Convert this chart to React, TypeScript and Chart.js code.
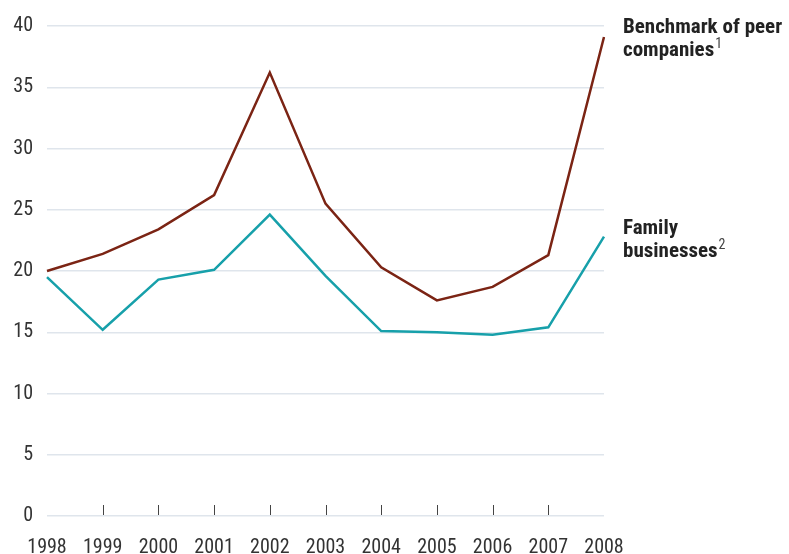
import React, { useEffect, useRef } from "react";
import { Chart, registerables } from "chart.js";

Chart.register(...registerables);

const years = ["1998", "1999", "2000", "2001", "2002", "2003", "2004", "2005", "2006", "2007", "2008"];
const benchmark = [20.0, 21.4, 23.4, 26.2, 36.2, 25.5, 20.3, 17.6, 18.7, 21.3, 39.1];
const family = [19.5, 15.2, 19.3, 20.1, 24.6, 19.6, 15.1, 15.0, 14.8, 15.4, 22.8];
const yTicks = [0, 5, 10, 15, 20, 25, 30, 35, 40];
const benchmarkLabel = ["Benchmark of peer", "companies"];
const benchmarkNote = "1";
const familyLabel = ["Family", "businesses"];
const familyNote = "2";

const FONT = '"Liberation Sans Narrow", "Arial Narrow", "Roboto Condensed", "Liberation Sans", sans-serif';
const BROWN = "#7b2414";
const TEAL = "#17a0aa";

export default function App() {
  const ref = useRef<HTMLCanvasElement | null>(null);

  useEffect(() => {
    document.body.style.margin = "0";
    const canvas = ref.current!;
    const labelPlugin = {
      id: "sideLabels",
      afterDatasetsDraw(chart: any) {
        const ctx = chart.ctx;
        const area = chart.chartArea;
        const xs = chart.scales.x;
        ctx.save();
        ctx.strokeStyle = "#444";
        ctx.lineWidth = 1;
        for (let i = 1; i < years.length - 1; i++) {
          const x = Math.round(xs.getPixelForValue(i)) + 0.5;
          ctx.beginPath();
          ctx.moveTo(x, area.bottom - 1);
          ctx.lineTo(x, area.bottom - 11);
          ctx.stroke();
        }
        const lx = area.right + 19;
        const drawBlock = (lines: string[], note: string, y0: number) => {
          ctx.font = `bold 21px ${FONT}`;
          ctx.fillStyle = "#222";
          ctx.textBaseline = "alphabetic";
          ctx.textAlign = "left";
          ctx.fillText(lines[0], lx, y0);
          ctx.fillText(lines[1], lx, y0 + 23);
          const w = ctx.measureText(lines[1]).width;
          ctx.font = `14px ${FONT}`;
          ctx.fillStyle = "#444";
          ctx.fillText(note, lx + w + 1, y0 + 15);
        };
        drawBlock(benchmarkLabel, benchmarkNote, 33);
        drawBlock(familyLabel, familyNote, 234);
        ctx.restore();
      },
    };

    const chart = new Chart(canvas, {
      type: "line",
      data: {
        labels: years,
        datasets: [
          { data: benchmark, borderColor: BROWN, borderWidth: 2.5, pointRadius: 0, tension: 0, fill: false },
          { data: family, borderColor: TEAL, borderWidth: 2.5, pointRadius: 0, tension: 0, fill: false },
        ],
      },
      options: {
        animation: false,
        responsive: false,
        maintainAspectRatio: false,
        layout: { padding: { top: 24, right: 185, left: 0, bottom: 0 } },
        plugins: { legend: { display: false }, tooltip: { enabled: false } },
        scales: {
          x: {
            offset: false,
            grid: { display: false, drawTicks: false },
            border: { display: false },
            ticks: { color: "#333", font: { family: FONT, size: 20 }, padding: 20, maxRotation: 0, autoSkip: false },
            afterFit: (s: any) => { s.height = 38; },
          },
          y: {
            min: 0,
            max: 40,
            afterBuildTicks: (s: any) => { s.ticks = yTicks.map((v) => ({ value: v })); },
            grid: { color: "#dfe5ec", lineWidth: 1.5, drawTicks: false },
            border: { display: false },
            ticks: { color: "#333", font: { family: FONT, size: 20 }, padding: 14 },
            afterFit: (s: any) => { s.width = 47; },
          },
        },
      },
      plugins: [labelPlugin],
    });
    return () => chart.destroy();
  }, []);

  return (
    <div style={{ width: 789, height: 554 }}>
      <canvas ref={ref} width={789} height={554} style={{ display: "block" }} />
    </div>
  );
}
